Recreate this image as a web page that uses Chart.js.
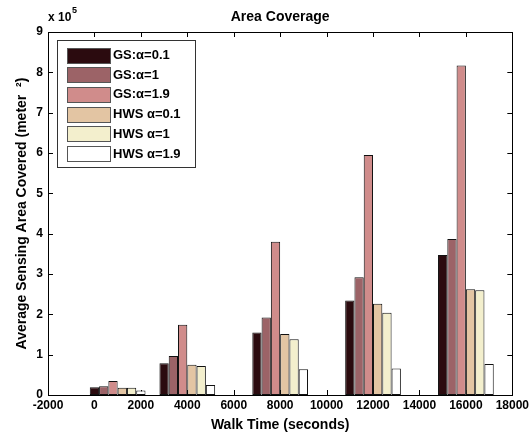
<!DOCTYPE html>
<html>
<head>
<meta charset="utf-8">
<script src="https://cdn.jsdelivr.net/npm/chart.js@4/dist/chart.umd.min.js"></script>
<style>
  body { margin: 0; background: #fff; }
  #wrap { width: 532px; height: 437px; }
</style>
</head>
<body>
<div id="wrap"><canvas id="coverageChart"></canvas></div>
<script>
// walk times (seconds) where each group of bars sits
const walkTimes = [1000, 4000, 8000, 12000, 16000];
const seriesNames = ['GS:\u03b1=0.1', 'GS:\u03b1=1', 'GS:\u03b1=1.9', 'HWS \u03b1=0.1', 'HWS \u03b1=1', 'HWS \u03b1=1.9'];
const seriesColors = ['#2b0b0f', '#9c6367', '#d08c8b', '#e3c5a3', '#f3efcd', '#ffffff'];

// average sensing area covered (meter^2)
const gs01 = [19000, 79000, 155000, 234000, 347000];
const gs1 = [22000, 97000, 192000, 292000, 387000];
const gs19 = [35000, 174000, 380000, 595000, 817000];
const hws01 = [18000, 75000, 151000, 226000, 262000];
const hws1 = [18000, 72000, 138000, 204000, 260000];
const hws19 = [11000, 25000, 64000, 66000, 77000];
const allSeries = [gs01, gs1, gs19, hws01, hws1, hws19];

const xTicks = [-2000, 0, 2000, 4000, 6000, 8000, 10000, 12000, 14000, 16000, 18000];
const yTicks = [0, 1, 2, 3, 4, 5, 6, 7, 8, 9];

const family = "'Liberation Sans', Arial, sans-serif";
const tickFont = { family: family, size: 12, weight: 'bold' };
const labelFont = { family: family, size: 14, weight: 'bold' };

// MATLAB style box, inward ticks, title, exponent and legend
const matlabAxes = {
    id: 'matlabAxes',
    beforeDatasetsDraw(chart) {
        const { ctx, chartArea: a, scales: { x, y } } = chart;
        ctx.save();
        ctx.strokeStyle = '#000';
        ctx.lineWidth = 1;
        ctx.beginPath();
        xTicks.forEach(v => {
            const px = Math.round(x.getPixelForValue(v)) + 0.5;
            ctx.moveTo(px, a.bottom); ctx.lineTo(px, a.bottom - 5);
            ctx.moveTo(px, a.top); ctx.lineTo(px, a.top + 5);
        });
        yTicks.forEach(v => {
            const py = Math.round(y.getPixelForValue(v * 1e5)) + 0.5;
            ctx.moveTo(a.left, py); ctx.lineTo(a.left + 5, py);
            ctx.moveTo(a.right, py); ctx.lineTo(a.right - 5, py);
        });
        ctx.stroke();
        ctx.restore();
    },
    afterDraw(chart) {
        const { ctx, chartArea: a } = chart;
        ctx.save();
        ctx.strokeStyle = '#000';
        ctx.lineWidth = 1;
        ctx.strokeRect(Math.round(a.left) + 0.5, Math.round(a.top) + 0.5,
            Math.round(a.right - a.left), Math.round(a.bottom - a.top));

        ctx.fillStyle = '#000';
        ctx.textBaseline = 'middle';
        ctx.textAlign = 'center';
        ctx.font = 'bold 14px ' + family;
        ctx.fillText('Area Coverage', (a.left + a.right) / 2, 17);
        ctx.textAlign = 'left';
        ctx.font = 'bold 12px ' + family;
        ctx.fillText('x 10', 48, 18);
        ctx.font = 'bold 9px ' + family;
        ctx.fillText('5', 72, 11);

        // legend
        const lx = 57, ly = 40, lw = 138, lh = 127;
        ctx.fillStyle = '#fff';
        ctx.fillRect(lx, ly, lw, lh);
        ctx.strokeStyle = '#333';
        ctx.strokeRect(lx + 0.5, ly + 0.5, lw, lh);
        ctx.font = 'bold 13px ' + family;
        chart.data.datasets.forEach((ds, i) => {
            const cy = 54.5 + i * 19.7;
            ctx.fillStyle = ds.backgroundColor;
            ctx.fillRect(67, Math.round(cy - 7), 43, 15);
            ctx.strokeStyle = '#555';
            ctx.strokeRect(67.5, Math.round(cy - 7) + 0.5, 43, 15);
            ctx.fillStyle = '#000';
            ctx.fillText(ds.label, 113, cy + 1);
        });
        ctx.restore();
    }
};

new Chart(document.getElementById('coverageChart'), {
    type: 'bar',
    data: {
        datasets: allSeries.map((vals, i) => ({
            label: seriesNames[i],
            data: walkTimes.map((t, j) => ({ x: t, y: vals[j] })),
            backgroundColor: seriesColors[i],
            borderColor: '#111',
            borderWidth: 1,
            borderSkipped: false,
            categoryPercentage: 1.2,
            barPercentage: 1
        }))
    },
    options: {
        responsive: true,
        maintainAspectRatio: false,
        animation: false,
        layout: { padding: { top: 32, right: 19, left: 0, bottom: 0 } },
        plugins: {
            legend: { display: false },
            tooltip: { enabled: false }
        },
        scales: {
            x: {
                type: 'linear',
                min: -2000,
                max: 18000,
                offset: false,
                afterFit(scale) { scale.height = 42; },
                afterBuildTicks(scale) { scale.ticks = xTicks.map(v => ({ value: v })); },
                grid: { display: false, drawTicks: false },
                border: { display: false },
                ticks: {
                    color: '#000',
                    font: tickFont,
                    padding: 3,
                    maxRotation: 0,
                    autoSkip: false,
                    callback: v => String(v)
                },
                title: {
                    display: true,
                    text: 'Walk Time (seconds)',
                    color: '#000',
                    font: labelFont,
                    padding: { top: 0, bottom: 3 }
                }
            },
            y: {
                min: 0,
                max: 900000,
                afterFit(scale) { scale.width = 48; },
                afterBuildTicks(scale) { scale.ticks = yTicks.map(v => ({ value: v * 1e5 })); },
                grid: { display: false, drawTicks: false },
                border: { display: false },
                ticks: {
                    color: '#000',
                    font: tickFont,
                    padding: 5,
                    callback: v => String(v / 1e5)
                },
                title: {
                    display: true,
                    text: 'Average Sensing Area Covered (meter  \u00b2)',
                    color: '#000',
                    font: labelFont,
                    padding: { top: 14, bottom: 0 }
                }
            }
        }
    },
    plugins: [matlabAxes]
});
</script>
</body>
</html>
